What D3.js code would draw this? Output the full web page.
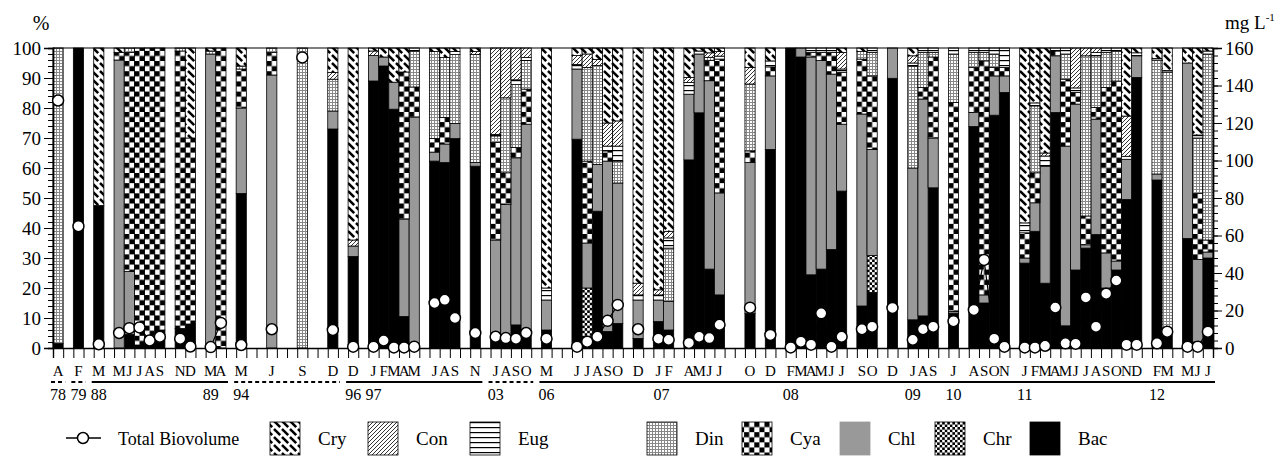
<!DOCTYPE html>
<html>
<head>
<meta charset="utf-8">
<script src="https://cdn.jsdelivr.net/npm/d3@7"></script>
<style>
  body { margin: 0; background: #fff; }
  text { font-family: "Liberation Serif", "DejaVu Serif", "Noto Serif", serif; }
</style>
</head>
<body>
<svg id="chart" width="1276" height="459"></svg>
<script>
// slot index on the x axis (114 slots, blanks have no sample)
const slots = [0,2,4,6,7,8,9,10,12,13, 15,16,18,21,24,27,29,31,32,33, 34,35,37,38,39,41,43,44,45,46,
  48,51,52,53,54,55,57,59,60,62, 63,64,65,68,70,72,73,74,75,76, 77,79,80,82,84,85,86,88,90,91,
  92,93,95,96,97,98,99,100,101,102, 103,104,105,106,108,109,111,112,113];
const months = ["A","F","M","M","J","J","A","S","N","D", "M","A","M","J","S","D","D","J","F","M",
  "A","M","J","A","S","N","J","A","S","O", "M","J","J","A","S","O","D","J","F","A",
  "M","J","J","O","D","F","M","A","M","J", "J","S","O","D","J","A","S","J","A","S",
  "O","N","J","F","M","A","M","J","J","A", "S","O","N","D","F","M","M","J","J"];

// composition, % of total biovolume
const bac = [1.5,100,47.5,0,4.5,1,2,6,6.5,8, 0,0,51.5,0,0,73,30.5,89,94,79.6, 10.5,0,62.3,61.8,69.8,60.6,4.3,2,7.7,5,
  6,69.6,3.8,45.6,5.5,8.2,3.2,8.8,6,62.7, 78.4,26.3,17.7,11.5,66.2,100,97,24.4,26.3,32.8, 52.3,14,18.5,89.9,9.4,10.7,53.4,11.6,73.8,15,
  77.6,85.2,28.3,38.9,21.6,78.5,7.4,26,33.3,37.8, 20,26,49.5,90.2,56,4,36.5,2,30];
const chr = [0,0,0,0,0,0,0,0,0,0, 0,0,0,0,0,0,0,0,0,0, 0,0,0,0,0,0,0,0,0,0,
  0,0,16.2,0,0,0,0,0,0,0, 0,0,0,0,0,0,0,0,0,0, 0,0,12.3,0,0,0,0,0,0,0,
  0,0,0,0,0,0,0,0,0,0, 0,0,0,0,0,0,0,0,0];
const chl = [0,0,0,96,21,0,0,0,0,0, 98,0,28.5,91,0,6,3.5,8.5,3,9, 32.5,77,3,6.2,5,1.2,31.7,45.8,55.7,69.6,
  10,23.4,15,15.6,56.8,46.8,12.8,7.2,9.5,21.9, 19.6,62.8,34,50.3,24.5,0,3,72.6,69.5,58.5, 22.3,64,35.4,10.1,50.6,72.3,16.6,0.6,4.7,2.7,
  13.1,5.5,1.7,9.5,39,18.9,59.9,55.3,1.1,38.5, 11.7,3,13.4,7.2,2,0,58.5,27.5,2];
const cya = [0,0,0,2.5,73,99,98,94,92.5,62, 0,100,13,7.5,0,0,0,0,0,0, 49,10,4.5,8.8,0,0,32.5,10.6,3.4,11.7,
  0,0,27.3,0,3.4,0,0,0,0,0, 0,6.8,44.6,3.9,3,0,0,1.5,2.7,7.2, 17.3,18.3,24.5,0,0,3.8,27,69.6,15,78,
  2.8,2.8,8.4,10,0,1.6,22.3,3.9,9.6,3.9, 55.1,60,0,0,0,0,0,22,4];
const din = [98.5,0,0,0,1.5,0,0,0,1,0, 1,0,1,1.5,100,10.6,0,0,0,0, 0,12,29,20,23,36,2.2,25,21,9.5,
  0,0,31.2,33,0,7.3,0,0,17.8,0, 0,1,0,22.3,0,0,0,0,0,0, 0,2.5,7.8,0,34,11.7,1.5,16.2,5,2.8,
  4.5,0,0,22.3,0,0,8.4,0,53.4,17.2, 11.7,10,0,0,38,88,0,18.5,62];
const eug = [0,0,0,0,0,0,0,0,0,0, 0,0,0,0,0,0,0,0,0,0, 0,1,0,0,1,0,0.5,0,1.6,1,
  4,1.5,0,0,1.6,5,1.7,1.7,3.4,3.9, 1,0,1,0,2,0,0,1.5,1.5,1.5, 1.1,0,1.5,0,1,1.5,1.5,2,1.5,1.5,
  2,6.5,3.3,1,3.4,1,2,1.5,0,1.1, 1.5,1,1,1,0.5,0.5,0,1,1];
const con = [0,0,0,0,0,0,0,0,0,0, 0,0,0,0,0,2.2,2,1.5,0,0, 0,0,0,0,0,1,28.8,16.6,10.6,3.2,
  0,3,4.5,2,7.7,8.4,3.9,1.7,2.2,1.7, 0,1.5,1.5,5.5,0,0,0,0,0,0, 5.5,0,0,0,2.4,0,0,0,0,0,
  0,0,0,0,1,0,0,13.3,2.6,1.5, 0,0,13.4,0,0,0,0,0,0];
const cry = [0,0,52.5,1.5,0,0,0,0,0,30, 1,0,6,0,0,8.2,64,1,3,11.4, 8,0,1.2,3.2,1.2,1.2,0,0,0,0,
  80,2.5,2,3.8,25,24.3,78.4,80.6,61.1,9.8, 1,1.6,1.2,6.5,4.3,0,0,0,0,0, 1.5,1.2,0,0,2.6,0,0,0,0,0,
  0,0,58.3,18.3,35,0,0,0,0,0, 0,0,22.7,1.6,3.5,7.5,5,29,1];

// total biovolume, mg L-1
const biovolume = [132,65,2,8,10.6,11,4,6,5,0.8, 0.5,13.4,1.6,10,155,9.6,0.7,0.7,4,0.3, 0.3,0.7,24,25.7,16,8,6,5.3,5,8,
  5,0.7,3.4,6,14.5,23,10,5,4.4,2.7, 6,5.3,12.4,21.5,7,0.3,3.4,1.8,18.5,0.7, 6,10,11.4,21.4,4.4,10,11.4,14.3,20.3,47,
  5,0.7,0.3,0.3,1.2,21.6,2.5,2.3,27,11.4, 29,36,1.8,1.8,2.5,8.7,0.7,0.7,8.7];

const yearLabels = ["78","79","88","89","94","96","97","03","06","07","08","09","10","11","12"];
const yearSlots = [0,2,4,15,18,29,31,43,48,59.3,72,84,88,95,108];
const spanStart = [0,2,4,18,29,43,48];
const spanEnd = [0,2,16,27,41,46,113];
const spanDashed = [true,true,false,true,false,true,false];

const groups = ["Bac","Chr","Chl","Cya","Din","Eug","Con","Cry"];
const series = [bac,chr,chl,cya,din,eug,con,cry];
const legendOrder = ["Cry","Con","Eug","Din","Cya","Chl","Chr","Bac"];

const nSlots = 114;
const plotLeft = 53, plotRight = 1213, plotTop = 48, plotBottom = 348;

const svg = d3.select("#chart");
const defs = svg.append("defs");

const x = d3.scaleBand().domain(d3.range(nSlots)).range([plotLeft, plotRight]).padding(0);
const xEdge = d3.scaleLinear().domain([0, nSlots]).range([plotLeft, plotRight]);
const y = d3.scaleLinear().domain([0, 100]).range([plotBottom, plotTop]);
const y2 = d3.scaleLinear().domain([0, 160]).range([plotBottom, plotTop]);
const bw = x.bandwidth();

function pat(id, w, h) {
  const p = defs.append("pattern").attr("id", id).attr("patternUnits", "userSpaceOnUse")
    .attr("x", plotLeft).attr("y", 0).attr("width", w).attr("height", h);
  p.append("rect").attr("width", w).attr("height", h).attr("fill", "#fff");
  return p;
}
let p = pat("p-cry", 8, 8);
p.append("path").attr("d", "M-1,-1L5.2,5.2M7,7L9,9M7,-1L9,1M-1,7L1,9")
  .attr("stroke", "#000").attr("stroke-width", 2.6);
p = pat("p-con", 4, 4);
p.append("path").attr("d", "M0,4L4,0M-1,1L1,-1M3,5L5,3").attr("stroke", "#000").attr("stroke-width", 0.8);
p = pat("p-eug", 5, 5);
p.append("rect").attr("width", 5).attr("height", 1.2).attr("fill", "#000");
p = pat("p-din", 3, 3);
p.append("rect").attr("width", 3).attr("height", 1).attr("fill", "#888");
p.append("rect").attr("width", 1).attr("height", 3).attr("fill", "#888");
p = pat("p-cya", bw, bw);
p.append("rect").attr("width", bw / 2).attr("height", bw / 2).attr("fill", "#000");
p.append("rect").attr("x", bw / 2).attr("y", bw / 2).attr("width", bw / 2).attr("height", bw / 2).attr("fill", "#000");
p = pat("p-chr", bw / 2, bw / 2);
p.append("rect").attr("width", bw / 4).attr("height", bw / 4).attr("fill", "#000");
p.append("rect").attr("x", bw / 4).attr("y", bw / 4).attr("width", bw / 4).attr("height", bw / 4).attr("fill", "#000");

const fills = {Bac: "#000", Chr: "url(#p-chr)", Chl: "#999", Cya: "url(#p-cya)",
  Din: "url(#p-din)", Eug: "url(#p-eug)", Con: "url(#p-con)", Cry: "url(#p-cry)"};

const rows = slots.map((s, i) => {
  const r = {slot: s, month: months[i], bio: biovolume[i]};
  groups.forEach((g, k) => r[g] = series[k][i]);
  return r;
});
const stacked = d3.stack().keys(groups)(rows);

svg.append("g").selectAll("g").data(stacked).join("g")
  .attr("fill", d => fills[d.key])
  .selectAll("rect").data(d => d.filter(v => v[1] - v[0] > 0)).join("rect")
  .attr("x", d => x(d.data.slot))
  .attr("width", bw)
  .attr("y", d => y(Math.min(100, d[1])))
  .attr("height", d => y(d[0]) - y(Math.min(100, d[1])))
  .attr("stroke", "#000").attr("stroke-width", 0.8);

// frame top
svg.append("line").attr("x1", plotLeft).attr("x2", plotRight).attr("y1", plotTop).attr("y2", plotTop)
  .attr("stroke", "#000").attr("stroke-width", 1.2);

// axes
const gl = svg.append("g").attr("transform", `translate(${plotLeft},0)`);
gl.call(d3.axisLeft(y).tickValues(d3.range(0, 101, 2)).tickSize(5).tickFormat(""));
gl.append("g").call(d3.axisLeft(y).tickValues(d3.range(0, 101, 10)).tickSize(9).tickPadding(3));
const gr = svg.append("g").attr("transform", `translate(${plotRight},0)`);
gr.call(d3.axisRight(y2).tickValues(d3.range(0, 161, 4)).tickSize(5).tickFormat(""));
gr.append("g").call(d3.axisRight(y2).tickValues(d3.range(0, 161, 20)).tickSize(9).tickPadding(3));
const gb = svg.append("g").attr("transform", `translate(0,${plotBottom})`);
gb.call(d3.axisBottom(xEdge).tickValues(d3.range(0, nSlots + 1)).tickSize(10).tickFormat(""));

svg.selectAll("g").attr("font-family", null);
svg.selectAll(".domain").attr("stroke", "#000").attr("stroke-width", 1.4);
svg.selectAll(".tick line").attr("stroke", "#000").attr("stroke-width", 1);
svg.selectAll(".tick text").attr("font-size", 19);

svg.append("text").attr("x", 41).attr("y", 30).attr("text-anchor", "middle").attr("font-size", 20).text("%");
const unit = svg.append("text").attr("x", 1225).attr("y", 29).attr("font-size", 19);
unit.append("tspan").text("mg L");
unit.append("tspan").attr("font-size", 11).attr("dy", -8).text("-1");

// month and year labels
const cx = s => x(0) + (s + 0.5) * bw;
svg.append("g").selectAll("text").data(rows).join("text")
  .attr("x", d => cx(d.slot)).attr("y", 376).attr("text-anchor", "middle")
  .attr("font-size", 15).text(d => d.month);
svg.append("g").selectAll("text").data(yearLabels).join("text")
  .attr("x", (d, i) => cx(yearSlots[i])).attr("y", 400).attr("text-anchor", "middle")
  .attr("font-size", 16).text(d => d);
svg.append("g").selectAll("line").data(spanStart).join("line")
  .attr("x1", d => xEdge(d) - 2).attr("x2", (d, i) => xEdge(spanEnd[i] + 1) + 2)
  .attr("y1", 382).attr("y2", 382)
  .attr("stroke", "#000")
  .attr("stroke-width", (d, i) => spanDashed[i] ? 2.2 : 1.8)
  .attr("stroke-dasharray", (d, i) => spanDashed[i] ? "4,3" : null);

// total biovolume
const full = d3.range(nSlots).map(s => {
  const i = slots.indexOf(s);
  return i < 0 ? null : {slot: s, v: biovolume[i]};
});
const line = d3.line().defined(d => d != null).x(d => cx(d.slot)).y(d => y2(d.v));
svg.append("path").datum(full).attr("d", line).attr("fill", "none").attr("stroke", "#000").attr("stroke-width", 1.2);
svg.append("g").selectAll("circle").data(rows).join("circle")
  .attr("cx", d => cx(d.slot)).attr("cy", d => y2(d.bio)).attr("r", 5.5)
  .attr("fill", "#fff").attr("stroke", "#000").attr("stroke-width", 1.5);

// legend
const lg = svg.append("g");
lg.append("line").attr("x1", 66).attr("x2", 101).attr("y1", 438).attr("y2", 438).attr("stroke", "#000").attr("stroke-width", 1.5);
lg.append("circle").attr("cx", 83).attr("cy", 438).attr("r", 5.5).attr("fill", "#fff").attr("stroke", "#000").attr("stroke-width", 1.5);
lg.append("text").attr("x", 118).attr("y", 445).attr("font-size", 18).text("Total Biovolume");
const legendX = [270, 368, 470, 647, 742, 840, 935, 1030];
const li = lg.selectAll("g.item").data(legendOrder).join("g").attr("class", "item")
  .attr("transform", (d, i) => `translate(${legendX[i]},422)`);
li.append("rect").attr("width", 30).attr("height", 33).attr("fill", d => fills[d])
  .attr("stroke", d => d === "Chl" ? "#999" : "#000").attr("stroke-width", 0.8);
li.append("text").attr("x", 48).attr("y", 23).attr("font-size", 19).text(d => d);
</script>
</body>
</html>
